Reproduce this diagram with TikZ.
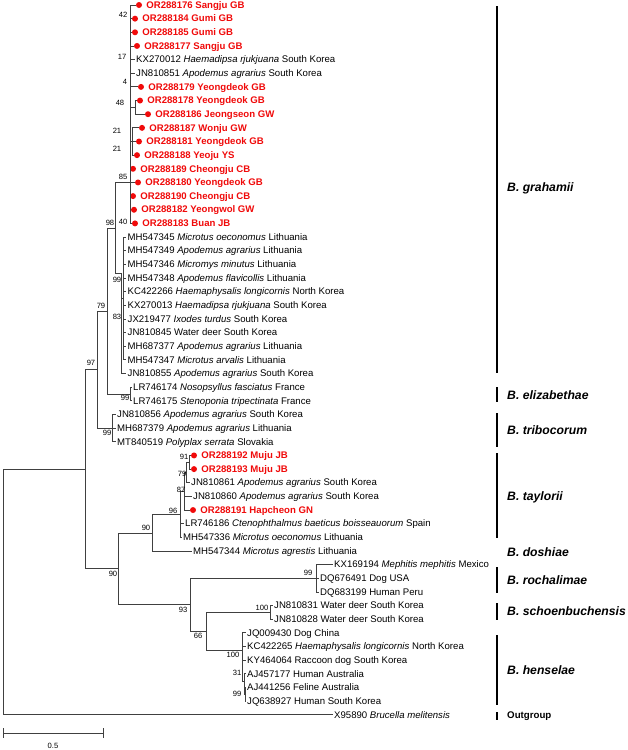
\documentclass[tikz,border=0pt]{standalone}
\usepackage{fontspec}
\setmainfont{Liberation Sans}
\usepackage{xcolor}
\usetikzlibrary{positioning}
\definecolor{isored}{RGB}{240,10,10}
\tikzset{
  branch/.style={draw=black!75, line width=0.85pt},
  leaf/.style={anchor=west, inner sep=1.5pt, text height=6.9pt, text depth=0.5pt, font=\fontsize{9.6}{11}\selectfont},
  isolate/.style={inner sep=1pt, text height=6.9pt, text depth=0.5pt, text=isored, font=\fontsize{9.6}{11}\selectfont\bfseries},
  tipdot/.style={circle, fill=isored, minimum size=6pt, inner sep=0pt},
  boot/.style={inner sep=0pt, font=\fontsize{7.6}{9}\selectfont},
  cladebar/.style={draw=black, line width=1.8pt},
  clade/.style={anchor=west, inner sep=0pt, font=\fontsize{12.2}{14}\selectfont\bfseries\itshape},
  outlabel/.style={anchor=west, inner sep=0pt, font=\fontsize{9.7}{11}\selectfont\bfseries}
}

\begin{document}
\begin{tikzpicture}[x=1pt,y=-1pt]
\useasboundingbox (0,0) rectangle (627,750);

% internal nodes
\coordinate (root) at (3,592);
\coordinate (n0) at (85,469);
\coordinate (n97) at (97,369);
\coordinate (n79a) at (107,311);
\coordinate (n98) at (115,228);
\coordinate (n85) at (130,182);
\coordinate (n48) at (135,107.4);
\coordinate (n21) at (132,141.5);
\coordinate (n99a) at (121,273);
\coordinate (n83) at (123,298.5);
\coordinate (n99b) at (130,394);
\coordinate (n99c) at (112,428.2);
\coordinate (n90a) at (118,568.7);
\coordinate (n90b) at (152,533);
\coordinate (n96) at (180,514.7);
\coordinate (n87) at (184,491.5);
\coordinate (n79b) at (186,472.5);
\coordinate (n91) at (189,462.3);
\coordinate (n93) at (190,604.6);
\coordinate (n99d) at (316,578.3);
\coordinate (n66) at (206,631);
\coordinate (n100a) at (270,612.4);
\coordinate (n100b) at (242,650);
\coordinate (n31) at (244,681);
\coordinate (n99e) at (245,694.3);

% B. grahamii, isolates of this study
\node[tipdot] (d01) at (139,5) {};
\node[isolate, right=3pt of d01] (t01) {OR288176 Sangju GB};
\node[tipdot] (d02) at (135,18.65) {};
\node[isolate, right=3pt of d02] (t02) {OR288184 Gumi GB};
\node[tipdot] (d03) at (135,32.3) {};
\node[isolate, right=3pt of d03] (t03) {OR288185 Gumi GB};
\node[tipdot] (d04) at (137,45.95) {};
\node[isolate, right=3pt of d04] (t04) {OR288177 Sangju GB};
\node[leaf] (t05) at (134.5,59.6) {KX270012 \textit{Haemadipsa rjukjuana} South Korea};
\node[leaf] (t06) at (134.5,73.25) {JN810851 \textit{Apodemus agrarius} South Korea};
\node[tipdot] (d07) at (141,86.9) {};
\node[isolate, right=3pt of d07] (t07) {OR288179 Yeongdeok GB};
\node[tipdot] (d08) at (140,100.55) {};
\node[isolate, right=3pt of d08] (t08) {OR288178 Yeongdeok GB};
\node[tipdot] (d09) at (148,114.2) {};
\node[isolate, right=3pt of d09] (t09) {OR288186 Jeongseon GW};
\node[tipdot] (d10) at (142,127.85) {};
\node[isolate, right=3pt of d10] (t10) {OR288187 Wonju GW};
\node[tipdot] (d11) at (139,141.5) {};
\node[isolate, right=3pt of d11] (t11) {OR288181 Yeongdeok GB};
\node[tipdot] (d12) at (137,155.15) {};
\node[isolate, right=3pt of d12] (t12) {OR288188 Yeoju YS};
\node[tipdot] (d13) at (133,168.8) {};
\node[isolate, right=3pt of d13] (t13) {OR288189 Cheongju CB};
\node[tipdot] (d14) at (138,182.45) {};
\node[isolate, right=3pt of d14] (t14) {OR288180 Yeongdeok GB};
\node[tipdot] (d15) at (133,196.1) {};
\node[isolate, right=3pt of d15] (t15) {OR288190 Cheongju CB};
\node[tipdot] (d16) at (134,209.75) {};
\node[isolate, right=3pt of d16] (t16) {OR288182 Yeongwol GW};
\node[tipdot] (d17) at (135,223.4) {};
\node[isolate, right=3pt of d17] (t17) {OR288183 Buan JB};

% B. grahamii, reference sequences
\node[leaf] (t18) at (126,237.05) {MH547345 \textit{Microtus oeconomus} Lithuania};
\node[leaf] (t19) at (126,250.7) {MH547349 \textit{Apodemus agrarius} Lithuania};
\node[leaf] (t20) at (126,264.35) {MH547346 \textit{Micromys minutus} Lithuania};
\node[leaf] (t21) at (126,278) {MH547348 \textit{Apodemus flavicollis} Lithuania};
\node[leaf] (t22) at (126,291.65) {KC422266 \textit{Haemaphysalis longicornis} North Korea};
\node[leaf] (t23) at (126,305.3) {KX270013 \textit{Haemadipsa rjukjuana} South Korea};
\node[leaf] (t24) at (126,318.95) {JX219477 \textit{Ixodes turdus} South Korea};
\node[leaf] (t25) at (126,332.6) {JN810845 Water deer South Korea};
\node[leaf] (t26) at (126,346.25) {MH687377 \textit{Apodemus agrarius} Lithuania};
\node[leaf] (t27) at (126,359.9) {MH547347 \textit{Microtus arvalis} Lithuania};
\node[leaf] (t28) at (126,373.55) {JN810855 \textit{Apodemus agrarius} South Korea};

% B. elizabethae, B. tribocorum
\node[leaf] (t29) at (131.5,387.2) {LR746174 \textit{Nosopsyllus fasciatus} France};
\node[leaf] (t30) at (131.5,400.85) {LR746175 \textit{Stenoponia tripectinata} France};
\node[leaf] (t31) at (115.5,414.5) {JN810856 \textit{Apodemus agrarius} South Korea};
\node[leaf] (t32) at (115.5,428.15) {MH687379 \textit{Apodemus agrarius} Lithuania};
\node[leaf] (t33) at (115.5,441.8) {MT840519 \textit{Polyplax serrata} Slovakia};

% B. taylorii, B. doshiae
\node[tipdot] (d34) at (194,455.45) {};
\node[isolate, right=3pt of d34] (t34) {OR288192 Muju JB};
\node[tipdot] (d35) at (194,469.1) {};
\node[isolate, right=3pt of d35] (t35) {OR288193 Muju JB};
\node[leaf] (t36) at (189.5,482.75) {JN810861 \textit{Apodemus agrarius} South Korea};
\node[leaf] (t37) at (191.5,496.4) {JN810860 \textit{Apodemus agrarius} South Korea};
\node[tipdot] (d38) at (193,510.05) {};
\node[isolate, right=3pt of d38] (t38) {OR288191 Hapcheon GN};
\node[leaf] (t39) at (183.5,523.7) {LR746186 \textit{Ctenophthalmus baeticus boisseauorum} Spain};
\node[leaf] (t40) at (181.5,537.35) {MH547336 \textit{Microtus oeconomus} Lithuania};
\node[leaf] (t41) at (191.5,551) {MH547344 \textit{Microtus agrestis} Lithuania};

% B. rochalimae, B. schoenbuchensis, B. henselae, outgroup
\node[leaf] (t42) at (332.5,564.65) {KX169194 \textit{Mephitis mephitis} Mexico};
\node[leaf] (t43) at (318.5,578.3) {DQ676491 Dog USA};
\node[leaf] (t44) at (318.5,591.95) {DQ683199 Human Peru};
\node[leaf] (t45) at (272.5,605.6) {JN810831 Water deer South Korea};
\node[leaf] (t46) at (272.5,619.25) {JN810828 Water deer South Korea};
\node[leaf] (t47) at (245.5,632.9) {JQ009430 Dog China};
\node[leaf] (t48) at (245.5,646.55) {KC422265 \textit{Haemaphysalis longicornis} North Korea};
\node[leaf] (t49) at (245.5,660.2) {KY464064 Raccoon dog South Korea};
\node[leaf] (t50) at (245.5,673.85) {AJ457177 Human Australia};
\node[leaf] (t51) at (245.5,687.5) {AJ441256 Feline Australia};
\node[leaf] (t52) at (245.5,701.15) {JQ638927 Human South Korea};
\node[leaf] (t53) at (332.5,714.8) {X95890 \textit{Brucella melitensis}};

% branches
\draw[branch] (root) |- (n0) (root) |- (t53);
\draw[branch] (n0) |- (n97) (n0) |- (n90a);
\draw[branch] (n97) |- (n79a) (n97) |- (n99c);
\draw[branch] (n79a) |- (n98) (n79a) |- (n99b);
\draw[branch] (n98) |- (n85) (n98) |- (n99a);
\draw[branch] (n85) |- (d01) (n85) |- (d02) (n85) |- (d03) (n85) |- (d04)
  (n85) |- (t05) (n85) |- (t06) (n85) |- (d07) (n85) |- (n48) (n85) |- (n21)
  (n85) |- (d13) (n85) |- (d14) (n85) |- (d15) (n85) |- (d16) (n85) |- (d17);
\draw[branch] (n48) |- (d08) (n48) |- (d09);
\draw[branch] (n21) |- (d10) (n21) |- (d11) (n21) |- (d12);
\draw[branch] (n99a) |- (n83) (n99a) |- (t28);
\draw[branch] (n83) |- (t18) (n83) |- (t19) (n83) |- (t20) (n83) |- (t21) (n83) |- (t22)
  (n83) |- (t23) (n83) |- (t24) (n83) |- (t25) (n83) |- (t26) (n83) |- (t27);
\draw[branch] (n99b) |- (t29) (n99b) |- (t30);
\draw[branch] (n99c) |- (t31) (n99c) |- (t32) (n99c) |- (t33);
\draw[branch] (n90a) |- (n90b) (n90a) |- (n93);
\draw[branch] (n90b) |- (n96) (n90b) |- (t41);
\draw[branch] (n96) |- (n87) (n96) |- (t39) (n96) |- (t40);
\draw[branch] (n87) |- (n79b) (n87) |- (t37) (n87) |- (d38);
\draw[branch] (n79b) |- (n91) (n79b) |- (t36);
\draw[branch] (n91) |- (d34) (n91) |- (d35);
\draw[branch] (n93) |- (n99d) (n93) |- (n66);
\draw[branch] (n99d) |- (t42) (n99d) |- (t43) (n99d) |- (t44);
\draw[branch] (n66) |- (n100a) (n66) |- (n100b);
\draw[branch] (n100a) |- (t45) (n100a) |- (t46);
\draw[branch] (n100b) |- (t47) (n100b) |- (t48) (n100b) |- (t49) (n100b) |- (n31);
\draw[branch] (n31) |- (t50) (n31) |- (n99e);
\draw[branch] (n99e) |- (t51) (n99e) |- (t52);

% bootstrap values
\node[boot] (b42) at (123,15) {42};
\node[boot] (b17) at (122,57) {17};
\node[boot] (b4) at (125,82) {4};
\node[boot] (b48) at (120,103) {48};
\node[boot] (b21a) at (117,131) {21};
\node[boot] (b21b) at (117,149) {21};
\node[boot] (b85) at (123,177) {85};
\node[boot] (b40) at (123,222) {40};
\node[boot] (b98) at (110,223) {98};
\node[boot] (b99a) at (117,280) {99};
\node[boot] (b83) at (117,317) {83};
\node[boot] (b79a) at (101,306) {79};
\node[boot] (b99b) at (125,398) {99};
\node[boot] (b97) at (91,363) {97};
\node[boot] (b99c) at (107,433) {99};
\node[boot] (b91) at (184,457) {91};
\node[boot] (b79b) at (182,474) {79};
\node[boot] (b87) at (181,490) {87};
\node[boot] (b96) at (173,511) {96};
\node[boot] (b90b) at (146,528) {90};
\node[boot] (b90a) at (113,574) {90};
\node[boot] (b93) at (183,610) {93};
\node[boot] (b99d) at (308,573) {99};
\node[boot] (b100a) at (262,608) {100};
\node[boot] (b66) at (198,636) {66};
\node[boot] (b100b) at (233,655) {100};
\node[boot] (b31) at (237,673) {31};
\node[boot] (b99e) at (237,694) {99};

% clades
\draw[cladebar] (497,6) -- (497,373);
\node[clade] (cgra) at (507,188) {B. grahamii};
\draw[cladebar] (497,387) -- (497,402);
\node[clade] (celi) at (507,395) {B. elizabethae};
\draw[cladebar] (497,413) -- (497,447);
\node[clade] (ctri) at (507,430) {B. tribocorum};
\draw[cladebar] (497,453) -- (497,538);
\node[clade] (ctay) at (507,497) {B. taylorii};
\node[clade] (cdos) at (507,552) {B. doshiae};
\draw[cladebar] (497,567) -- (497,593);
\node[clade] (croc) at (507,580) {B. rochalimae};
\draw[cladebar] (497,603) -- (497,620);
\node[clade] (csch) at (507,611) {B. schoenbuchensis};
\draw[cladebar] (497,635) -- (497,705);
\node[clade] (chen) at (507,670) {B. henselae};
\draw[cladebar] (497,712) -- (497,720);
\node[outlabel] (cout) at (507,716) {Outgroup};

% scale bar
\draw[branch] (3,728) -- (3,738) (3,733) -- (103,733) (103,728) -- (103,738);
\node[boot] (scale) at (53,746) {0.5};
\end{tikzpicture}
\end{document}
